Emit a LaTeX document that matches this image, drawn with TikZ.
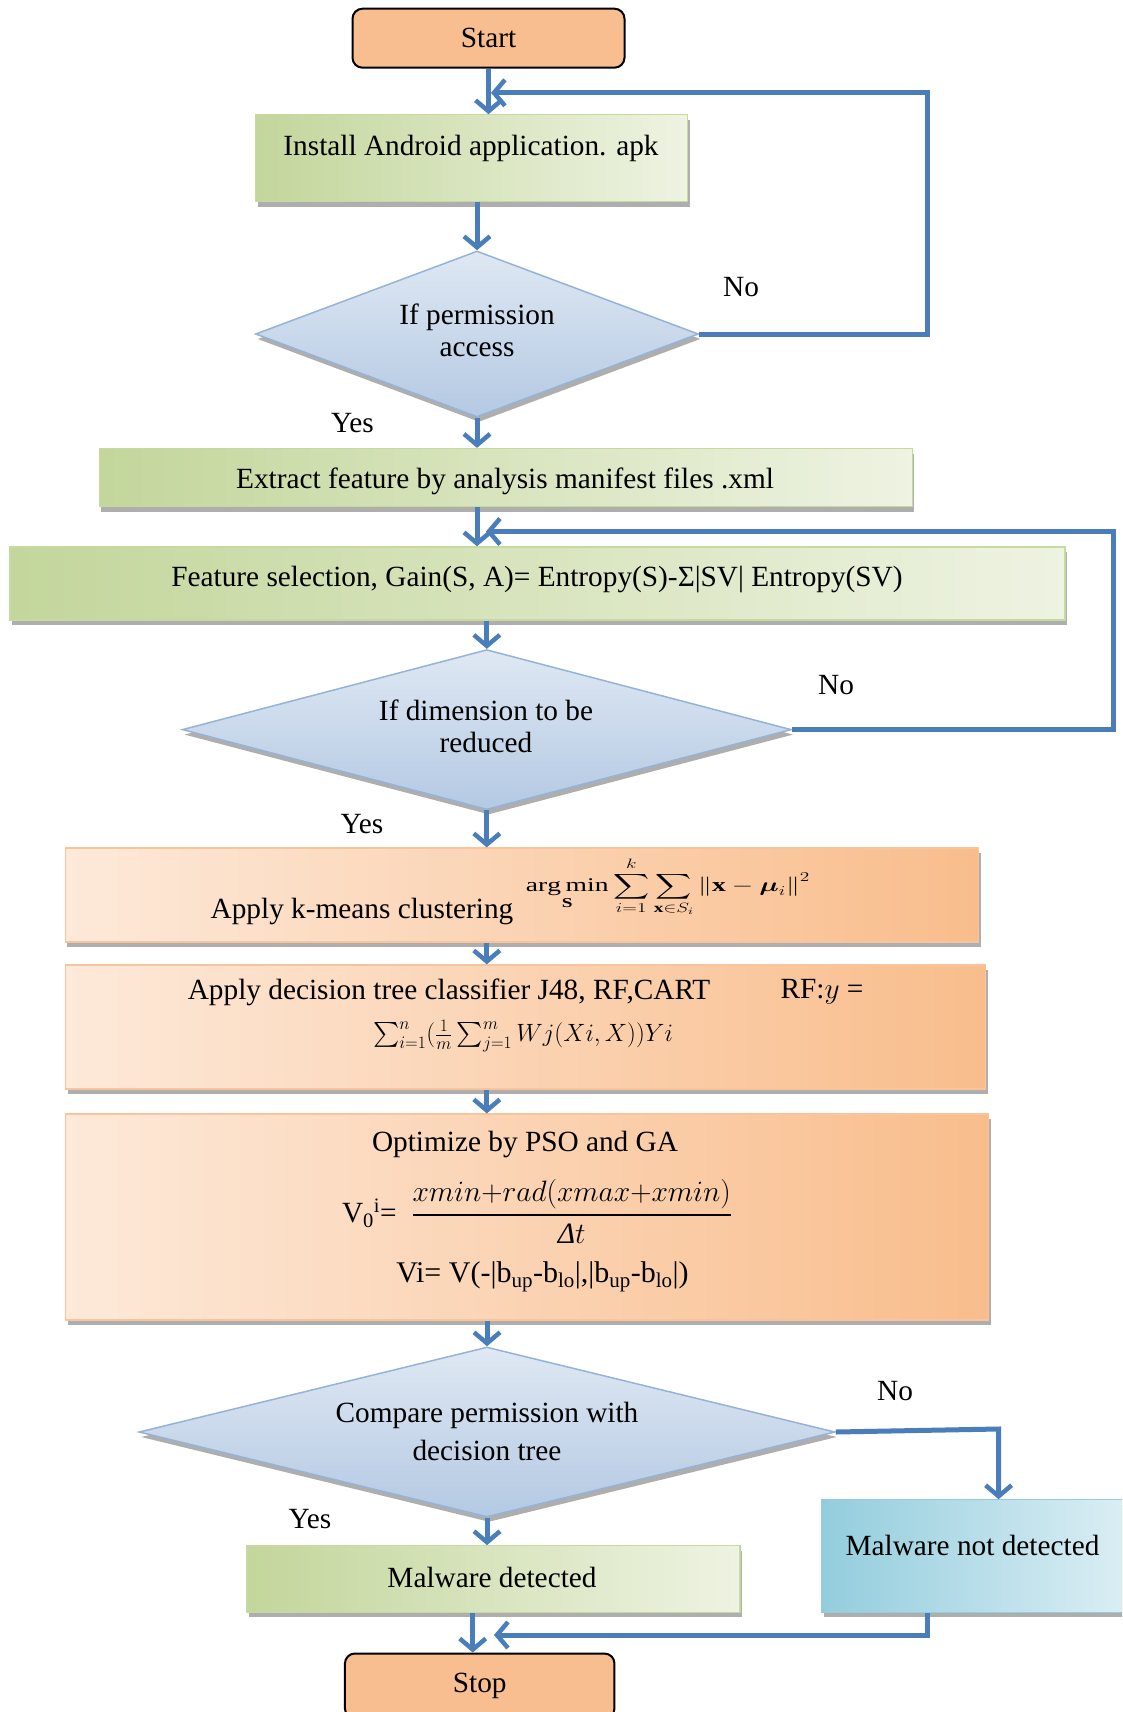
\RequirePackage{fix-cm}
\documentclass[tikz,border=0pt]{standalone}
\usepackage{amsmath}
\usepackage{graphicx}
\usepackage{fontspec}
\setmainfont{Liberation Serif}
\usetikzlibrary{shapes.geometric,arrows.meta,shadows}
\definecolor{ablue}{HTML}{4A7EBB}
\definecolor{torange}{HTML}{F9BE8F}
\definecolor{gdark}{HTML}{C3D69B}
\definecolor{glight}{HTML}{EEF3E2}
\definecolor{gborder}{HTML}{C6D9A0}
\definecolor{bdark}{HTML}{B4C9E3}
\definecolor{blight}{HTML}{DFE8F3}
\definecolor{bborder}{HTML}{95B3D7}
\definecolor{odark}{HTML}{F9BD8C}
\definecolor{olight}{HTML}{FDE9D9}
\definecolor{oborder}{HTML}{F9C49B}
\definecolor{cdark}{HTML}{93CDDD}
\definecolor{clight}{HTML}{DDEFF5}
\newcommand\fs{\fontsize{29.3}{32}\selectfont}
\tikzset{
 arr/.style={draw=ablue, line width=5pt, -{Straight Barb[length=11pt,width=26pt,line width=4.5pt]}},
 term/.style={draw=black, line width=2pt, rounded corners=10pt, fill=torange, inner sep=0pt, font=\fs},
 shad/.style={drop shadow={shadow xshift=2pt,shadow yshift=-5pt,fill=black!45,opacity=.7}},
 gbox/.style={shad, left color=gdark, right color=glight, draw=gborder, line width=1.2pt, inner sep=0pt},
 obox/.style={shad, left color=olight, right color=odark, draw=oborder, line width=1.2pt, inner sep=0pt},
 cbox/.style={shad, left color=cdark, right color=clight, draw=cdark, line width=1.2pt, inner sep=0pt},
 dia/.style={diamond, inner sep=0pt, shad, top color=blight, bottom color=bdark, draw=bborder, line width=1.5pt},
 txt/.style={font=\fs, inner sep=0pt, align=center},
}
\begin{document}
\begin{tikzpicture}[x=1pt,y=-1pt]
\clip (0,0) rectangle (1122,1712);
\fill[white] (0,0) rectangle (1122,1712);
% nodes
\node[term, minimum width=272pt, minimum height=59pt] (start) at (488.5,38.2) {Start};
\node[gbox, minimum width=432pt, minimum height=87pt] (install) at (471.5,158.3) {};
\node[txt] (installt) at (471,148) {Install Android application. apk};
\node[dia, minimum width=443pt, minimum height=166pt] (d1) at (477,334) {};
\node[txt] (d1t) at (477,330) {If permission\\access};
\node[txt] (no1) at (741,287) {No};
\node[txt] (yes1) at (352.5,423) {Yes};
\node[gbox, minimum width=813pt, minimum height=58pt] (extract) at (505.9,477.5) {};
\node[txt] (extractt) at (505,481) {Extract feature by analysis manifest files .xml};
\node[gbox, minimum width=1055pt, minimum height=73pt] (feature) at (537.5,583.4) {};
\node[txt] (featuret) at (537,579) {Feature selection, Gain(S, A)= Entropy(S)-Σ|SV| Entropy(SV)};
\node[dia, minimum width=609pt, minimum height=160pt] (d2) at (486.8,729.6) {};
\node[txt] (d2t) at (486,726) {If dimension to be\\reduced};
\node[txt] (no2) at (836,685) {No};
\node[txt] (yes2) at (362,824) {Yes};
\node[obox, minimum width=913.5pt, minimum height=94pt] (kmeans) at (522,895) {};
\node[txt] (kmeanst) at (362,911) {Apply k-means clustering};
\node[inner sep=0pt, font=\fontsize{19}{22}\selectfont] (kmeansf) at (668,887)
  {\scalebox{1.45}[1.02]{$\displaystyle \operatorname*{arg\,min}_{\mathbf{S}} \sum_{i=1}^{k} \sum_{\mathbf{x}\in S_i} \left\|\mathbf{x}-\boldsymbol{\mu}_i\right\|^2$}};
\node[obox, minimum width=920pt, minimum height=124pt] (dt) at (525.5,1027) {};
\node[txt] (dtt) at (449,992) {Apply decision tree classifier J48, RF,CART};
\node[txt] (dtrf) at (822,992) {RF:$y$ =};
\node[inner sep=0pt, font=\fontsize{25}{28}\selectfont] (dtf) at (523,1036)
  {$\sum_{i=1}^{n}(\frac{1}{m}\sum_{j=1}^{m} Wj(Xi,X))Yi$};
\node[obox, minimum width=923pt, minimum height=206pt] (opt) at (527,1217) {};
\node[txt] (optt) at (525,1144) {Optimize by PSO and GA};
\node[txt] (optf) at (537,1211) {V\textsubscript{0}\textsuperscript{i}=\ \ {\fontsize{29.5}{32}\selectfont$\displaystyle\genfrac{}{}{2pt}{}{xmin\mathord{+}rad(xmax\mathord{+}xmin)}{\text{\itshape Δ}t}$}};
\node[txt, font=\fontsize{30}{34}\selectfont] (optv) at (542.5,1277) {Vi= V(-|b\textsubscript{up}-b\textsubscript{lo}|,|b\textsubscript{up}-b\textsubscript{lo}|)};
\node[dia, minimum width=696pt, minimum height=170pt] (d3) at (487,1432) {};
\node[txt, font=\fontsize{29.3}{38}\selectfont] (d3t) at (487,1431) {Compare permission with\\decision tree};
\node[txt] (no3) at (895,1391) {No};
\node[txt] (yes3) at (310,1519) {Yes};
\node[gbox, minimum width=493pt, minimum height=66.5pt] (md) at (493.4,1579) {};
\node[txt] (mdt) at (492,1577) {Malware detected};
\node[cbox, minimum width=313pt, minimum height=112.4pt] (mnd) at (978.5,1556) {};
\node[txt] (mndt) at (972.5,1545) {Malware not detected};
\node[term, minimum width=269.5pt, minimum height=65pt] (stop) at (479.7,1686) {Stop};
% coordinates
\coordinate (r1) at (927.7,92.8);
\coordinate (j1) at (491,92.8);
\coordinate (r2) at (1113,531.5);
\coordinate (j2) at (486,531.5);
\coordinate (r3) at (998.6,1429);
\coordinate (j3) at (494,1635);
% connectors
\draw[arr] (start.south) -- (start.south |- install.north);
\draw[arr] (d1.north |- install.south) -- (d1.north);
\draw[arr] (d1.south) -- (d1.south |- extract.north);
\draw[arr] (extract.south -| d1.north) -- (feature.north -| d1.north);
\draw[arr] (d2.north |- feature.south) -- (d2.north);
\draw[arr] (d2.south) -- (d2.south |- kmeans.north);
\draw[arr] (d2.south |- kmeans.south) -- (d2.south |- dt.north);
\draw[arr] (d2.south |- dt.south) -- (d2.south |- opt.north);
\draw[arr] (d3.north |- opt.south) -- (d3.north);
\draw[arr] (d3.south) -- (d3.south |- md.north);
\draw[arr] ([xshift=-7pt]stop.north |- md.south) -- ([xshift=-7pt]stop.north);
\draw[arr] (d1.east) -| (r1) -- (j1);
\draw[arr] (d2.east) -| (r2) -- (j2);
\draw[arr] (d3.east) -- (r3) -- (r3 |- mnd.north);
\draw[arr] ([xshift=-50.8pt]mnd.south) |- (j3);
\end{tikzpicture}
\end{document}
